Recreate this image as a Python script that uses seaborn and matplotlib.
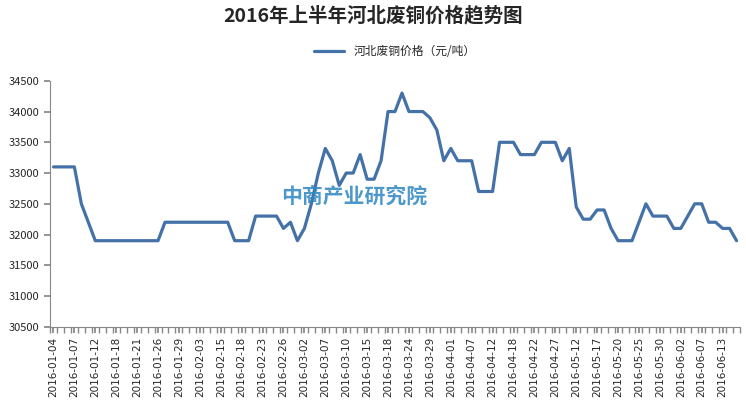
import matplotlib
matplotlib.use('Agg')
import matplotlib.pyplot as plt
import seaborn as sns
import pandas as pd
import numpy as np

sns.set_theme(style='white')
plt.rcParams['font.family'] = ['Noto Sans CJK SC', 'DejaVu Sans']

# 河北废铜价格 (元/吨), one value per trading day
prices = [33100, 33100, 33100, 33100, 32500, 32200, 31900, 31900, 31900, 31900,
          31900, 31900, 31900, 31900, 31900, 31900, 32200, 32200, 32200, 32200,
          32200, 32200, 32200, 32200, 32200, 32200, 31900, 31900, 31900, 32300,
          32300, 32300, 32300, 32100, 32200, 31900, 32100, 32500, 33000, 33400,
          33200, 32800, 33000, 33000, 33300, 32900, 32900, 33200, 34000, 34000,
          34300, 34000, 34000, 34000, 33900, 33700, 33200, 33400, 33200, 33200,
          33200, 32700, 32700, 32700, 33500, 33500, 33500, 33300, 33300, 33300,
          33500, 33500, 33500, 33200, 33400, 32450, 32250, 32250, 32400, 32400,
          32100, 31900, 31900, 31900, 32200, 32500, 32300, 32300, 32300, 32100,
          32100, 32300, 32500, 32500, 32200, 32200, 32100, 32100, 31900]

# every third day is labelled
tick_labels = ['2016-01-04', '2016-01-07', '2016-01-12', '2016-01-18', '2016-01-21',
               '2016-01-26', '2016-01-29', '2016-02-03', '2016-02-15', '2016-02-18',
               '2016-02-23', '2016-02-26', '2016-03-02', '2016-03-07', '2016-03-10',
               '2016-03-15', '2016-03-18', '2016-03-24', '2016-03-29', '2016-04-01',
               '2016-04-07', '2016-04-12', '2016-04-18', '2016-04-22', '2016-04-27',
               '2016-05-12', '2016-05-17', '2016-05-20', '2016-05-25', '2016-05-30',
               '2016-06-02', '2016-06-07', '2016-06-13']

df = pd.DataFrame({'idx': np.arange(len(prices)), 'price': prices})

fig = plt.figure(figsize=(7.46, 4.0), dpi=100)
ax = fig.add_axes([0.067, 0.183, 0.925, 0.615])

sns.lineplot(data=df, x='idx', y='price', ax=ax, color='#4472A8', linewidth=2.3,
             label='河北废铜价格（元/吨）')

ax.set_xlim(-0.5, len(prices) - 0.5)
ax.set_ylim(30500, 34500)
ax.set_yticks(range(30500, 34501, 500))
ax.set_xticks(np.arange(0, len(prices), 3))
ax.set_xticklabels(tick_labels, rotation=90, fontsize=7.5, family='DejaVu Sans')
ax.set_xticks(np.arange(-0.5, len(prices), 1), minor=True)
ax.tick_params(axis='y', labelsize=8, left=True, length=4, color='#888888')
ax.tick_params(axis='x', which='both', bottom=True, length=4, color='#888888')
ax.set_xlabel('')
ax.set_ylabel('')
for s in ['top', 'right']:
    ax.spines[s].set_visible(False)
for s in ['left', 'bottom']:
    ax.spines[s].set_color('#888888')
    ax.spines[s].set_linewidth(0.8)

ax.legend(loc='upper center', bbox_to_anchor=(0.5, 1.19), frameon=False, fontsize=8.5,
          handlelength=2.5)
ax.text(0.335, 0.53, '中商产业研究院', transform=ax.transAxes, fontsize=15,
        color='#2E86C1', alpha=0.85, ha='left', va='center', fontweight='bold')

fig.suptitle('2016年上半年河北废铜价格趋势图', fontsize=14, fontweight='bold', y=0.985)
fig.savefig('out.png', dpi=100, facecolor='white')
